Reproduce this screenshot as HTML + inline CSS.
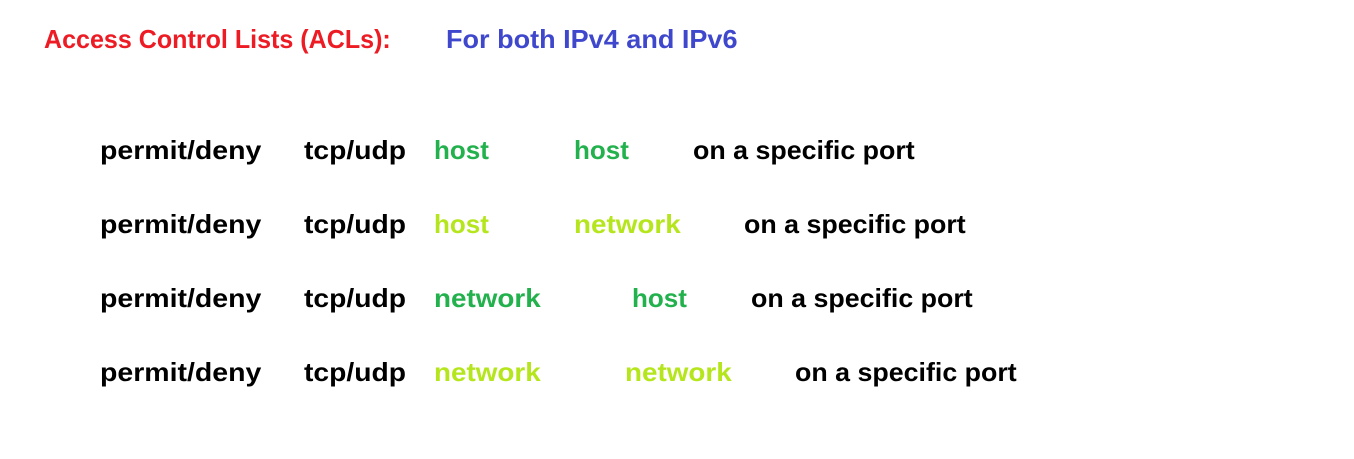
<!DOCTYPE html>
<html><head><meta charset="utf-8"><style>
html,body{margin:0;padding:0;background:#fff;}
body{width:1354px;height:459px;position:relative;overflow:hidden;font-family:"Liberation Sans",sans-serif;font-weight:bold;font-size:26px;}
span{position:absolute;line-height:30px;white-space:nowrap;transform-origin:left center;}
.k{color:#000}.g{color:#22b14c}.l{color:#b5e61d}
.pd{transform:scaleX(1.095)}.tu{transform:scaleX(1.086)}.nw{transform:scaleX(1.07)}.sp{transform:scaleX(1.03)}
</style></head><body>
<span style="left:44px;top:24px;color:#ed1c24;transform:scaleX(0.964)">Access Control Lists (ACLs):</span>
<span style="left:446px;top:24px;color:#3f48cc;transform:scaleX(1.04)">For both IPv4 and IPv6</span>

<span class="k pd" style="left:100px;top:135px">permit/deny</span>
<span class="k tu" style="left:304px;top:135px">tcp/udp</span>
<span class="g" style="left:434px;top:135px">host</span>
<span class="g" style="left:574px;top:135px">host</span>
<span class="k sp" style="left:693px;top:135px">on a specific port</span>

<span class="k pd" style="left:100px;top:209px">permit/deny</span>
<span class="k tu" style="left:304px;top:209px">tcp/udp</span>
<span class="l" style="left:434px;top:209px">host</span>
<span class="l nw" style="left:574px;top:209px">network</span>
<span class="k sp" style="left:744px;top:209px">on a specific port</span>

<span class="k pd" style="left:100px;top:283px">permit/deny</span>
<span class="k tu" style="left:304px;top:283px">tcp/udp</span>
<span class="g nw" style="left:434px;top:283px">network</span>
<span class="g" style="left:632px;top:283px">host</span>
<span class="k sp" style="left:751px;top:283px">on a specific port</span>

<span class="k pd" style="left:100px;top:357px">permit/deny</span>
<span class="k tu" style="left:304px;top:357px">tcp/udp</span>
<span class="l nw" style="left:434px;top:357px">network</span>
<span class="l nw" style="left:625px;top:357px">network</span>
<span class="k sp" style="left:795px;top:357px">on a specific port</span>
</body></html>
